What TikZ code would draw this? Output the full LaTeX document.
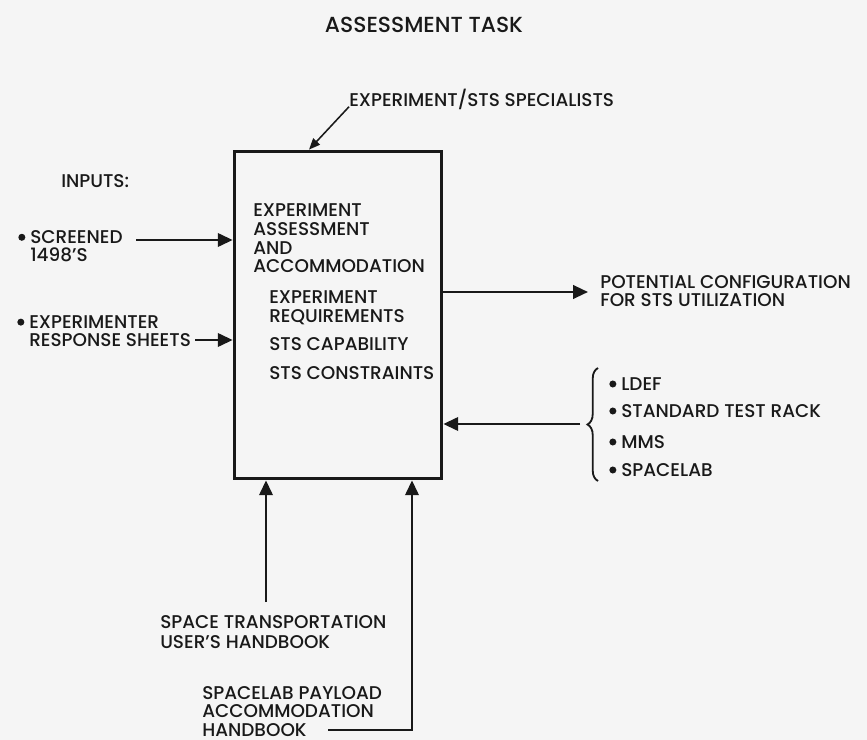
\documentclass[tikz,border=0pt]{standalone}
\usepackage{fontspec}
\setmainfont{Poppins}[UprightFont=* Medium]
\usetikzlibrary{arrows.meta, decorations.pathreplacing}

\newcommand{\punkt}{\llap{\tikz[baseline=-4.6pt]\fill (0,0) circle (2.5pt);\hspace{3.5pt}}}

\begin{document}
\begin{tikzpicture}[x=0.025cm, y=-0.025cm]

\tikzset{
  schrift/.style={font=\fontsize{13.1}{13.3}\selectfont, text=black!90},
  textblock/.style={schrift, inner sep=0pt, align=left, anchor=north west},
  zeile/.style={schrift, inner sep=0pt, anchor=west, text height=9.2pt, text depth=0pt},
  pfeil/.style={line width=1.7pt, black!90, -{Triangle[length=10.5pt, width=9.5pt]}}
}

% 0. Hintergrund
\useasboundingbox[fill=black!4] (0,0) rectangle (867,740);

% 1. Titel
\node[zeile, anchor=center, font=\fontsize{15.5}{17}\selectfont, text height=10.8pt] (titel) at (424,25) {ASSESSMENT TASK};

% 2. Kasten mit Aufgabentext
\node[draw=black!90, line width=2.6pt, minimum width=5.175cm, minimum height=8.175cm] (kasten) at (338,315) {};
\node[textblock] (aufgabe) at (253,203.5) {EXPERIMENT\\ASSESSMENT\\AND\\ACCOMMODATION};
\node[textblock] (anforderung) at (269,290.5) {EXPERIMENT\\REQUIREMENTS};
\node[zeile] (faehigkeit) at (269,344) {STS CAPABILITY};
\node[zeile] (grenzen) at (269,373) {STS CONSTRAINTS};

% 3. Spezialisten mit Hinweispfeil
\node[zeile] (spezialisten) at (349,100) {EXPERIMENT/STS SPECIALISTS};
\coordinate (spitze) at (309,0);
\draw[line width=1.1pt, black!90, -{Triangle[length=8pt, width=6.5pt]}] (spezialisten.south west) -- (spitze |- kasten.north);

% 4. Eingaben links
\node[zeile] (eingaben) at (61,181) {INPUTS:};
\node[textblock, font=\fontsize{13.1}{12.8}\selectfont] (screened) at (30,230.5) {\punkt SCREENED\\1498'S};
\node[textblock, font=\fontsize{13.1}{12.8}\selectfont] (antworten) at (29,315.5) {\punkt EXPERIMENTER\\RESPONSE SHEETS};
\coordinate (e1) at (136,240);
\coordinate (e2) at (195,340);
\draw[pfeil] (e1) -- (e1 -| kasten.west);
\draw[pfeil] (e2) -- (e2 -| kasten.west);

% 5. Ergebnis rechts
\node[textblock, font=\fontsize{13.1}{12.5}\selectfont] (ergebnis) at (600,275.5) {POTENTIAL CONFIGURATION\\FOR STS UTILIZATION};
\coordinate (a1) at (588,292);
\draw[pfeil] (a1 -| kasten.east) -- (a1);

% 6. Traegersysteme mit Klammer
\node[zeile] (ldef) at (621,384) {\punkt LDEF};
\node[zeile] (rack) at (621,411) {\punkt STANDARD TEST RACK};
\node[zeile] (mms) at (621,442) {\punkt MMS};
\node[zeile] (spacelab) at (621,470) {\punkt SPACELAB};
\coordinate (k1) at (598,481);
\coordinate (k2) at (598,368);
\draw[line width=1.3pt, black!90, decorate, decoration={brace, amplitude=7.5pt}] (k1) -- (k2);
\coordinate (t1) at (580,424);
\draw[pfeil] (t1) -- (t1 -| kasten.east);

% 7. Handbuecher unten
\node[textblock, font=\fontsize{13.1}{14.2}\selectfont] (handbuch1) at (160,615.5) {SPACE TRANSPORTATION\\USER'S HANDBOOK};
\node[textblock, font=\fontsize{13.1}{13.3}\selectfont] (handbuch2) at (202,686) {SPACELAB PAYLOAD\\ACCOMMODATION\\HANDBOOK};
\coordinate (u1) at (266,602);
\draw[pfeil] (u1) -- (u1 |- kasten.south);
\coordinate (h1) at (328,730);
\coordinate (h2) at (412,730);
\draw[pfeil] (h1) -- (h2) -- (h2 |- kasten.south);

\end{tikzpicture}
\end{document}
